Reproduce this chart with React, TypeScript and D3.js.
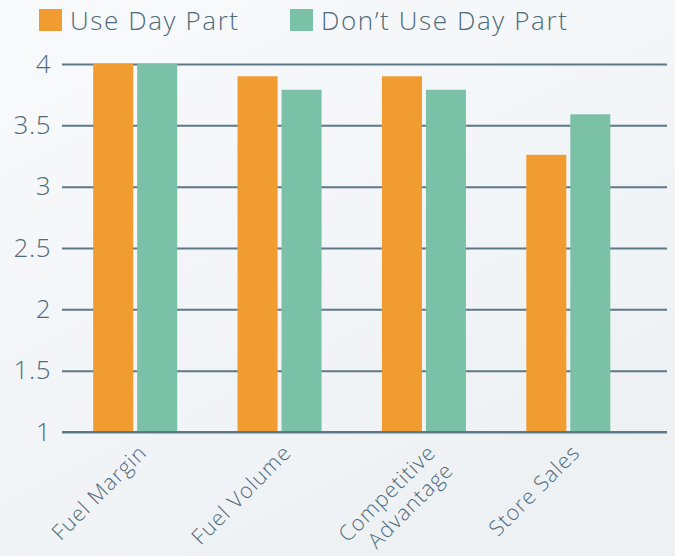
import React, { useEffect, useRef } from 'react';
import * as d3 from 'd3';

const categories: string[][] = [['Fuel Margin'], ['Fuel Volume'], ['Competitive', 'Advantage'], ['Store Sales']];
const seriesNames = ['Use Day Part', 'Don\u2019t Use Day Part'];
const useDayPart = [4.0, 3.9, 3.9, 3.26];
const dontUseDayPart = [4.0, 3.79, 3.79, 3.59];
const yTicks = [1, 1.5, 2, 2.5, 3, 3.5, 4];
const yTickLabels = ['1', '1.5', '2', '2.5', '3', '3.5', '4'];

const colors = ['#f09c30', '#7bc1a8'];
const textColor = '#4f6b7b';
const gridColor = '#5d7887';
const font = '"Open Sans", sans-serif';

const App: React.FC = () => {
    const svgRef = useRef<SVGSVGElement>(null);

    useEffect(() => {
        if (!svgRef.current) return;
        const width = 675;
        const height = 556;
        const svg = d3.select(svgRef.current);
        svg.selectAll('*').remove();

        // background
        const defs = svg.append('defs');
        const grad = defs.append('linearGradient')
            .attr('id', 'bg')
            .attr('x1', '0').attr('y1', '0')
            .attr('x2', '0.6').attr('y2', '1');
        grad.append('stop').attr('offset', '0%').attr('stop-color', '#f8fafc');
        grad.append('stop').attr('offset', '100%').attr('stop-color', '#eef1f4');
        svg.append('rect')
            .attr('width', width).attr('height', height)
            .attr('fill', 'url(#bg)');

        const plotLeft = 62;
        const plotRight = 667;

        const y = d3.scaleLinear().domain([1, 4]).range([432, 64]);
        const x0 = d3.scaleBand<number>()
            .domain(d3.range(categories.length))
            .range([63, 640.5])
            .paddingInner(0.418)
            .paddingOuter(0.209);
        const x1 = d3.scaleBand<number>()
            .domain([0, 1])
            .range([0, x0.bandwidth()])
            .paddingInner(0.09);

        // grid lines + y labels
        const yAxis = d3.axisLeft(y)
            .tickValues(yTicks)
            .tickSize(-(plotRight - plotLeft))
            .tickFormat((_d, i) => yTickLabels[i]);
        const yg = svg.append('g')
            .attr('transform', `translate(${plotLeft},0)`)
            .call(yAxis);
        yg.select('.domain').remove();
        yg.selectAll('.tick line')
            .attr('stroke', gridColor)
            .attr('stroke-width', 2);
        yg.selectAll('.tick text')
            .attr('x', -11)
            .attr('fill', textColor)
            .attr('font-family', font)
            .attr('font-size', 26)
            .attr('font-weight', 300)
            .attr('letter-spacing', 0.5);

        // bars
        const series = [useDayPart, dontUseDayPart];
        const groups = svg.append('g')
            .selectAll('g')
            .data(categories.map((_c, i) => i))
            .enter()
            .append('g')
            .attr('transform', i => `translate(${x0(i)},0)`);
        groups.selectAll('rect')
            .data(i => series.map((s, si) => ({ si, v: s[i] })))
            .enter()
            .append('rect')
            .attr('x', d => x1(d.si) as number)
            .attr('y', d => y(d.v))
            .attr('width', x1.bandwidth())
            .attr('height', d => y(1) - y(d.v))
            .attr('fill', d => colors[d.si]);

        // redraw baseline on top of bars
        svg.append('line')
            .attr('x1', plotLeft).attr('x2', plotRight)
            .attr('y1', y(1)).attr('y2', y(1))
            .attr('stroke', gridColor)
            .attr('stroke-width', 2);

        // x labels
        const labels = svg.append('g')
            .selectAll('text')
            .data(categories)
            .enter()
            .append('text')
            .attr('transform', (_d, i) => {
                const cx = (x0(i) as number) + x0.bandwidth() / 2 + 13;
                return `translate(${cx},454) rotate(-45)`;
            })
            .attr('text-anchor', 'end')
            .attr('fill', textColor)
            .attr('font-family', font)
            .attr('font-size', 21.5)
            .attr('font-weight', 300)
            .attr('letter-spacing', 1);
        labels.selectAll('tspan')
            .data(d => d)
            .enter()
            .append('tspan')
            .attr('x', 0)
            .attr('dy', (_d, j) => (j === 0 ? 0 : 25))
            .text(d => d);

        // legend
        const legendX = [39, 290];
        const legend = svg.append('g');
        seriesNames.forEach((name, i) => {
            legend.append('rect')
                .attr('x', legendX[i]).attr('y', 9)
                .attr('width', 23).attr('height', 22)
                .attr('fill', colors[i]);
            legend.append('text')
                .attr('x', legendX[i] + 31)
                .attr('y', 30)
                .attr('fill', textColor)
                .attr('font-family', font)
                .attr('font-size', 26)
                .attr('font-weight', 300)
                .attr('letter-spacing', 1.6)
                .text(name);
        });
    }, []);

    return (
        <svg
            ref={svgRef}
            width={675}
            height={556}
            style={{ position: 'absolute', left: 0, top: 0, display: 'block' }}
        />
    );
};

export default App;
